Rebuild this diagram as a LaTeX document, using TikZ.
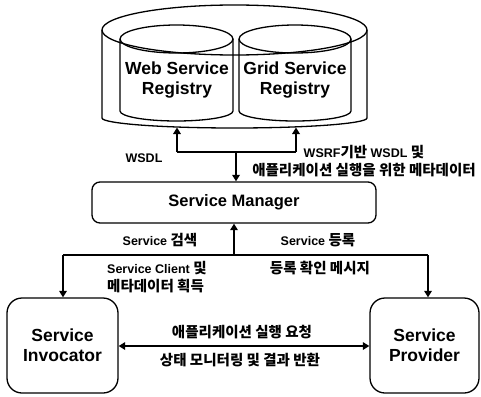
\documentclass[tikz,border=0pt]{standalone}
\usepackage{fontspec}
\setmainfont{Liberation Sans}
\newfontfamily\kr{Noto Sans CJK KR}
\newcommand{\K}[1]{{\kr\bfseries\fontsize{14.5}{17}\selectfont #1}}
\usetikzlibrary{arrows.meta}
\tikzset{
  cyl/.style={line width=1.3pt},
  boxst/.style={draw, line width=1.3pt, rounded corners=8pt, inner sep=0pt},
  conn/.style={line width=2.8pt},
  arr/.style={conn, -{Triangle[length=6.5pt,width=7.5pt]}},
  darr/.style={conn, {Triangle[length=6.5pt,width=7.5pt]}-{Triangle[length=6.5pt,width=7.5pt]}},
  big/.style={font=\fontsize{17.5}{20}\selectfont\bfseries, align=center},
  lbl/.style={font=\fontsize{12.5}{18.5}\selectfont\bfseries, inner sep=0pt}
}
\begin{document}
\begin{tikzpicture}[x=1pt,y=-1pt]
\useasboundingbox (0,0) rectangle (481,396);
% outer cylinder
\draw[cyl] (234.5,30) ellipse [x radius=132.5, y radius=25];
\draw[cyl] (102,30) -- (102,118) arc [start angle=180, end angle=360, x radius=132.5, y radius=-10] -- (367,30);
% inner left cylinder
\draw[cyl] (176.5,39) ellipse [x radius=56.5, y radius=14];
\draw[cyl] (120,39) -- (120,111) arc [start angle=180, end angle=360, x radius=56.5, y radius=-10] -- (233,39);
% inner right cylinder
\draw[cyl] (295,39) ellipse [x radius=56, y radius=14];
\draw[cyl] (239,39) -- (239,111) arc [start angle=180, end angle=360, x radius=56, y radius=-10] -- (351,39);
\node[big] (wsr) at (177,80) {Web Service\\Registry};
\node[big] (gsr) at (295,80) {Grid Service\\Registry};
\coordinate (wtip) at (177,127.5);
\coordinate (gtip) at (296,127.5);
\coordinate (bl) at (177,152);
\coordinate (br) at (296,152);
\coordinate (bm) at (236,152);
% service manager
\node[boxst, minimum width=284pt, minimum height=41pt, font=\fontsize{16.5}{20}\selectfont\bfseries] (sm) at (234,202.5) {Service Manager};
\draw[conn] (bl) -- (br);
\draw[arr] (bl) -- (wtip);
\draw[arr] (br) -- (gtip);
\draw[arr] (bm) -- (bm |- sm.north);
\node[lbl] (wsdl) at (144,158) {WSDL};
\node[lbl, align=center] (wsrf) at (364,161) {WSRF\K{기반} WSDL \K{및}\\\K{애플리케이션 실행을 위한 메타데이터}};
% invocator & provider
\node[boxst, rounded corners=15pt, minimum width=111pt, minimum height=95pt, big] (inv) at (62.5,345.5) {Service\\Invocator};
\node[boxst, rounded corners=15pt, minimum width=109pt, minimum height=95pt, big] (prov) at (424.5,345.5) {Service\\Provider};
\coordinate (hm) at (234,255);
\coordinate (hl) at (63,255);
\coordinate (hr) at (428,255);
\draw[conn] (hl) -- (hr);
\draw[arr] (hm) -- (hm |- sm.south);
\draw[arr] (hl) -- (hl |- inv.north);
\draw[arr] (hr) -- (hr |- prov.north);
\node[lbl] (srch) at (160,240) {Service \K{검색}};
\node[lbl] (reg) at (318,240) {Service \K{등록}};
\node[lbl, align=left, anchor=west] (cli) at (107,277) {Service Client \K{및}\\\K{메타데이터 획득}};
\node[lbl] (conf) at (320,268) {\K{등록 확인 메시지}};
\draw[darr] (inv.east |- 0,346) -- (prov.west |- 0,346);
\node[lbl] (req) at (242,332) {\K{애플리케이션 실행 요청}};
\node[lbl] (mon) at (240,360) {\K{상태 모니터링 및 결과 반환}};
\end{tikzpicture}
\end{document}
